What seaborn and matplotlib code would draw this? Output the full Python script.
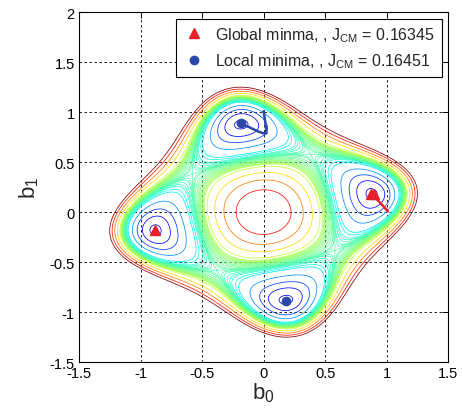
import numpy as np
import pandas as pd
import matplotlib
matplotlib.use("Agg")
import matplotlib.pyplot as plt
import seaborn as sns

# minima found on the CM cost surface
global_b0 = [0.87, -0.88]
global_b1 = [0.18, -0.18]
local_b0 = [-0.18, 0.18]
local_b1 = [0.89, -0.89]
J_global = 0.16345
J_local = 0.16451

# adaptation trajectories
blue_path_b0 = [0.0, 0.008, 0.016, 0.022, 0.024, 0.01, -0.04, -0.1, -0.15, -0.18]
blue_path_b1 = [1.01, 0.95, 0.88, 0.82, 0.79, 0.785, 0.805, 0.84, 0.87, 0.89]
red_path_b0 = [1.01, 0.98, 0.95, 0.92, 0.9, 0.895]
red_path_b1 = [0.01, 0.05, 0.09, 0.13, 0.16, 0.185]

# contour levels
well_levels = [0.172, 0.215, 0.27, 0.34]
band_levels = [0.42, 0.44, 0.46, 0.47, 0.48, 0.49, 0.495, 0.50, 0.505, 0.51,
               0.52, 0.53, 0.54, 0.55, 0.56, 0.57, 0.58, 0.59, 0.60]
upper_levels = [0.63, 0.71, 0.80, 0.90, 1.00]

# quartic CM cost surface coefficients
J0, p_coef, a_coef, b_coef = 1.0, 2.0756, 1.2876, 6.04

theta0 = np.arctan2(global_b1[0], global_b0[0])
g = np.linspace(-1.5, 1.5, 501)
B0, B1 = np.meshgrid(g, g)
U = B0 * np.cos(theta0) + B1 * np.sin(theta0)
V = -B0 * np.sin(theta0) + B1 * np.cos(theta0)
J = (J0 - p_coef * (U**2 + V**2) + a_coef * (U**4 + V**4)
     + b_coef * U**2 * V**2)

sns.set_style("white")
plt.rcParams["font.family"] = ["Liberation Sans", "DejaVu Sans"]
plt.rcParams["mathtext.default"] = "regular"
plt.rcParams["axes.unicode_minus"] = False

fig = plt.figure(figsize=(4.62, 4.14), dpi=100)
ax = fig.add_axes([0.171, 0.123, 0.799, 0.845])

levels = well_levels + band_levels + upper_levels
ax.contour(B0, B1, J, levels=levels, cmap="jet", vmin=0.1, vmax=1.0,
           linewidths=0.55)

blue_df = pd.DataFrame({"b0": blue_path_b0, "b1": blue_path_b1})
red_df = pd.DataFrame({"b0": red_path_b0, "b1": red_path_b1})
sns.lineplot(data=blue_df, x="b0", y="b1", sort=False, color="#2b47a8",
             linewidth=1.8, ax=ax)
sns.lineplot(data=red_df, x="b0", y="b1", sort=False, color="#e8202a",
             linewidth=1.8, ax=ax)
ax.plot(red_path_b0[-1], red_path_b1[-1], marker="^", color="#e8202a",
        markersize=7, linestyle="none")

ax.plot(global_b0, global_b1, marker="^", color="#e8202a", markersize=7,
        linestyle="none",
        label="Global minma, , J$_{CM}$ = %.5f" % J_global)
ax.plot(local_b0, local_b1, marker="o", color="#2b47a8", markersize=6,
        linestyle="none",
        label="Local minima, , J$_{CM}$ = %.5f" % J_local)

ax.set_xlim(-1.5, 1.5)
ax.set_ylim(-1.5, 2)
ax.set_xticks([-1.5, -1, -0.5, 0, 0.5, 1, 1.5])
ax.set_xticklabels(["-1.5", "-1", "-0.5", "0", "0.5", "1", "1.5"])
ax.set_yticks([-1.5, -1, -0.5, 0, 0.5, 1, 1.5, 2])
ax.set_yticklabels(["-1.5", "-1", "-0.5", "0", "0.5", "1", "1.5", "2"])
ax.tick_params(direction="in", length=4, width=0.7, top=True, right=True,
               labelsize=10.5, colors="black", pad=3)
ax.grid(True, color="black", linestyle=(0, (3, 3)), linewidth=0.6)
for s in ax.spines.values():
    s.set_color("black")
    s.set_linewidth(0.8)

ax.set_xlabel("b$_0$", fontsize=16, labelpad=0)
ax.set_ylabel("b$_1$", fontsize=16, labelpad=6)

leg = ax.legend(loc="upper right", fontsize=11.5, frameon=True, fancybox=False,
                edgecolor="black", framealpha=1, handletextpad=0.6,
                borderaxespad=0.4, labelspacing=0.5, handlelength=1.5,
                borderpad=0.4)
leg.get_frame().set_linewidth(0.8)

fig.savefig("out.png", dpi=100)
